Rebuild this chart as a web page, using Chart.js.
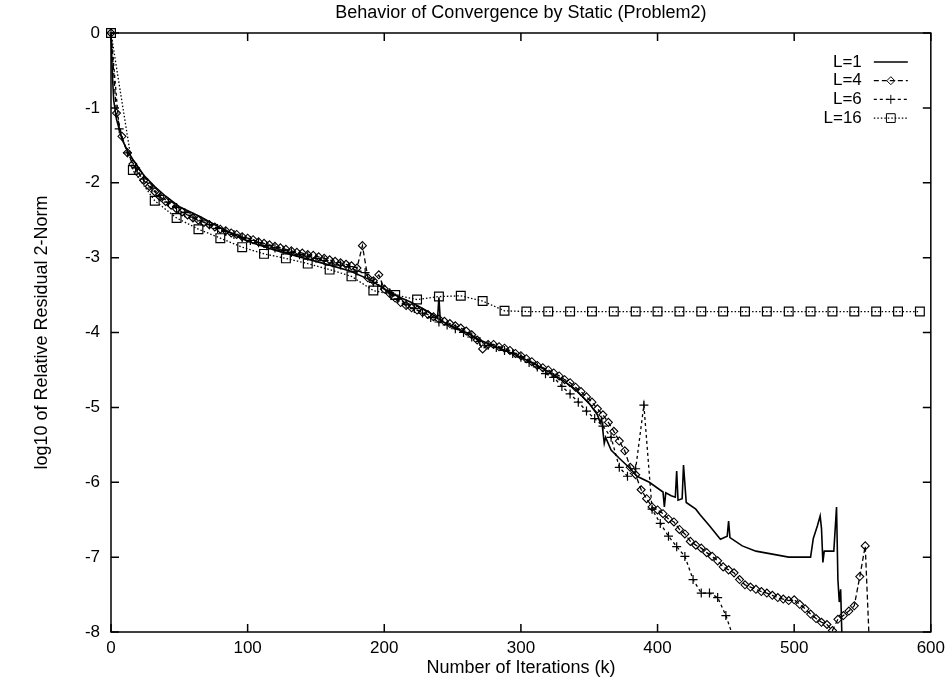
<!DOCTYPE html>
<html>
<head>
<meta charset="utf-8">
<script src="https://cdn.jsdelivr.net/npm/chart.js@4.4.1/dist/chart.umd.min.js"></script>
<style>
  html, body { margin: 0; padding: 0; background: #fff; }
  canvas { display: block; }
</style>
</head>
<body>
<canvas id="convChart" width="951" height="682"></canvas>
<script>
// axis ticks
const xTicks = [0, 100, 200, 300, 400, 500, 600];
const yTicks = [0, -1, -2, -3, -4, -5, -6, -7, -8];

// L=1 : every iteration (only the turning points are kept)
const l1Iter = [0, 1, 2, 4, 8, 12, 16, 24, 32, 40, 50, 65, 80, 100, 120, 140, 160, 175, 190, 200,
  210, 220, 230, 238, 239, 240, 241, 250, 260, 270, 280, 290, 300, 310, 320, 330, 340, 350, 356, 358,
  359, 361, 362, 366, 372, 379, 385, 394, 404, 405, 406, 410, 413, 414, 415, 418, 419, 421, 428, 431,
  438, 446, 451, 452, 453, 462, 472, 484, 496, 512, 514, 517, 519, 520, 521, 522, 529, 531, 532, 533,
  534, 535];
const l1Val = [0, -0.55, -0.9, -1.15, -1.42, -1.57, -1.69, -1.90, -2.05, -2.18, -2.32, -2.45, -2.60, -2.78, -2.90, -3.00, -3.10, -3.18, -3.30, -3.42,
  -3.52, -3.60, -3.70, -3.79, -3.81, -3.53, -3.84, -3.92, -4.00, -4.10, -4.18, -4.25, -4.33, -4.42, -4.52, -4.63, -4.76, -4.95, -5.10, -5.20,
  -5.15, -5.48, -5.40, -5.57, -5.68, -5.80, -5.92, -6.00, -6.13, -6.33, -6.14, -6.18, -6.20, -5.85, -6.24, -6.22, -5.77, -6.27, -6.36, -6.43,
  -6.58, -6.76, -6.72, -6.52, -6.74, -6.85, -6.92, -6.96, -7.00, -7.00, -6.75, -6.58, -6.45, -6.62, -7.07, -6.92, -6.92, -6.33, -7.30, -7.60,
  -7.43, -8.10];

// L=4 : one value every 4 iterations
const l4Step = 4;
const l4Val = [0, -1.07, -1.38, -1.60, -1.75, -1.87, -1.97, -2.05, -2.12, -2.19,
  -2.25, -2.30, -2.35, -2.39, -2.43, -2.47, -2.50, -2.53, -2.56, -2.59,
  -2.62, -2.64, -2.67, -2.69, -2.72, -2.74, -2.76, -2.79, -2.81, -2.83,
  -2.85, -2.87, -2.89, -2.91, -2.93, -2.94, -2.96, -2.97, -2.99, -3.01,
  -3.03, -3.05, -3.07, -3.09, -3.11, -3.14, -2.84, -3.27, -3.31, -3.23,
  -3.42, -3.48, -3.54, -3.60, -3.64, -3.67, -3.70, -3.73, -3.76, -3.79,
  -3.82, -3.85, -3.88, -3.91, -3.94, -3.98, -4.03, -4.10, -4.22, -4.16,
  -4.16, -4.19, -4.21, -4.24, -4.28, -4.31, -4.35, -4.39, -4.44, -4.47,
  -4.50, -4.54, -4.58, -4.63, -4.67, -4.73, -4.79, -4.86, -4.93, -5.02,
  -5.10, -5.20, -5.32, -5.45, -5.58, -5.80, -5.90, -6.10, -6.22, -6.33,
  -6.37, -6.42, -6.49, -6.53, -6.63, -6.69, -6.79, -6.84, -6.88, -6.94,
  -6.99, -7.05, -7.13, -7.17, -7.21, -7.30, -7.37, -7.40, -7.43, -7.46,
  -7.48, -7.51, -7.54, -7.56, -7.58, -7.57, -7.63, -7.69, -7.76, -7.82,
  -7.87, -7.90, -7.98, -7.83, -7.78, -7.72, -7.65, -7.26, -6.85, -8.60];

// L=6 : one value every 6 iterations
const l6Step = 6;
const l6Val = [0, -1.28, -1.60, -1.80, -1.95, -2.07, -2.17, -2.26, -2.33, -2.40,
  -2.46, -2.51, -2.56, -2.61, -2.65, -2.69, -2.73, -2.77, -2.80, -2.84,
  -2.87, -2.90, -2.93, -2.96, -2.98, -3.01, -3.04, -3.07, -3.10, -3.12,
  -3.18, -3.20, -3.33, -3.38, -3.47, -3.55, -3.62, -3.68, -3.74, -3.80,
  -3.86, -3.90, -3.95, -4.00, -4.06, -4.12, -4.17, -4.20, -4.24, -4.28,
  -4.33, -4.40, -4.46, -4.55, -4.60, -4.72, -4.82, -4.93, -5.05, -5.15,
  -5.25, -5.40, -5.80, -5.92, -5.82, -4.97, -6.36, -6.55, -6.72, -6.86,
  -6.99, -7.30, -7.48, -7.48, -7.54, -7.78, -8.10];

// L=16 : one value every 16 iterations
const l16Step = 16;
const l16Val = [0, -1.83, -2.24, -2.47, -2.62, -2.74, -2.86, -2.95, -3.01, -3.08,
  -3.16, -3.25, -3.44, -3.50, -3.56, -3.52, -3.51, -3.58, -3.71, -3.72,
  -3.72, -3.72, -3.72, -3.72, -3.72, -3.72, -3.72, -3.72, -3.72, -3.72,
  -3.72, -3.72, -3.72, -3.72, -3.72, -3.72, -3.72, -3.72];

const FONT = '"Liberation Sans", Arial, Helvetica, sans-serif';
Chart.defaults.font.family = FONT;
Chart.defaults.color = '#000';

function pairs(xs, ys) {
    return ys.map((v, i) => ({ x: xs[i], y: v }));
}
function stepped(step, ys) {
    return ys.map((v, i) => ({ x: i * step, y: v }));
}

const edgeClip = { left: 8, top: 8, right: 8, bottom: 0 };

// box round the plot with inward ticks on all four sides (gnuplot look)
const frame = {
    id: 'frame',
    afterDatasetsDraw(chart) {
        const { ctx, chartArea: a, scales } = chart;
        const len = 8;
        ctx.save();
        ctx.strokeStyle = '#000';
        ctx.lineWidth = 1.5;
        ctx.strokeRect(a.left, a.top, a.right - a.left, a.bottom - a.top);
        ctx.beginPath();
        scales.x.ticks.forEach(t => {
            const x = scales.x.getPixelForValue(t.value);
            ctx.moveTo(x, a.bottom); ctx.lineTo(x, a.bottom - len);
            ctx.moveTo(x, a.top); ctx.lineTo(x, a.top + len);
        });
        scales.y.ticks.forEach(t => {
            const y = scales.y.getPixelForValue(t.value);
            ctx.moveTo(a.left, y); ctx.lineTo(a.left + len, y);
            ctx.moveTo(a.right, y); ctx.lineTo(a.right - len, y);
        });
        ctx.stroke();
        ctx.restore();
    }
};

// key in the top right corner: label, then line sample with its marker
const keyBox = {
    id: 'keyBox',
    afterDraw(chart) {
        const { ctx, chartArea: a } = chart;
        ctx.save();
        ctx.font = '17px ' + FONT;
        ctx.textAlign = 'right';
        ctx.textBaseline = 'middle';
        chart.data.datasets.forEach((ds, i) => {
            const y = a.top + 29 + i * 18.7;
            const xt = a.right - 69;
            ctx.fillStyle = '#000';
            ctx.fillText(ds.label, xt, y);
            ctx.strokeStyle = '#000';
            ctx.lineWidth = ds.borderWidth;
            ctx.setLineDash(ds.borderDash || []);
            ctx.beginPath();
            ctx.moveTo(xt + 12, y);
            ctx.lineTo(xt + 46, y);
            ctx.stroke();
            ctx.setLineDash([]);
            if (ds.pointRadius > 0) {
                ctx.fillStyle = 'rgba(0,0,0,0)';
                ctx.lineWidth = 1;
                Chart.helpers.drawPoint(ctx, {
                    pointStyle: ds.pointStyle, radius: ds.pointRadius, rotation: 0, borderWidth: 1
                }, xt + 29, y);
            }
        });
        ctx.restore();
    }
};

const data = {
    datasets: [{
        label: 'L=1',
        data: pairs(l1Iter, l1Val),
        borderColor: '#000',
        borderWidth: 1.6,
        pointRadius: 0,
        clip: edgeClip
    },
    {
        label: 'L=4',
        data: stepped(l4Step, l4Val),
        borderColor: '#000',
        borderWidth: 1.3,
        borderDash: [5, 3],
        pointStyle: 'rectRot',
        pointRadius: 4,
        pointBorderWidth: 1.1,
        pointBackgroundColor: 'rgba(0,0,0,0)',
        pointBorderColor: '#000',
        clip: edgeClip
    },
    {
        label: 'L=6',
        data: stepped(l6Step, l6Val),
        borderColor: '#000',
        borderWidth: 1.3,
        borderDash: [3, 3],
        pointStyle: 'cross',
        pointRadius: 4.5,
        pointBorderWidth: 1.2,
        pointBorderColor: '#000',
        clip: edgeClip
    },
    {
        label: 'L=16',
        data: stepped(l16Step, l16Val),
        borderColor: '#000',
        borderWidth: 1.3,
        borderDash: [1.5, 2],
        pointStyle: 'rect',
        pointRadius: 6.2,
        pointBorderWidth: 1.2,
        pointBackgroundColor: 'rgba(0,0,0,0)',
        pointBorderColor: '#000',
        clip: edgeClip
    }]
};

const options = {
    responsive: false,
    animation: false,
    showLine: true,
    layout: {
        padding: { left: 0, right: 15, top: 0, bottom: 0 }
    },
    elements: {
        line: { tension: 0 }
    },
    scales: {
        x: {
            type: 'linear',
            min: 0,
            max: 600,
            afterBuildTicks: s => { s.ticks = xTicks.map(v => ({ value: v })); },
            afterFit: s => { s.height = 50; },
            grid: { display: false, drawTicks: false },
            border: { display: false },
            ticks: { font: { size: 17 }, padding: 6, maxRotation: 0 },
            title: {
                display: true,
                text: 'Number of Iterations (k)',
                font: { size: 18 },
                padding: { top: 0, bottom: 3 }
            }
        },
        y: {
            type: 'linear',
            min: -8,
            max: 0,
            afterBuildTicks: s => { s.ticks = yTicks.map(v => ({ value: v })); },
            afterFit: s => { s.width = 111; },
            grid: { display: false, drawTicks: false },
            border: { display: false },
            ticks: { font: { size: 17 }, padding: 11 },
            title: {
                display: true,
                text: 'log10 of Relative Residual 2-Norm',
                font: { size: 18 },
                padding: { top: 31, bottom: 0 }
            }
        }
    },
    plugins: {
        legend: { display: false },
        tooltip: { enabled: false },
        title: {
            display: true,
            fullSize: false,
            text: 'Behavior of Convergence by Static (Problem2)',
            font: { size: 18, weight: 'normal' },
            color: '#000',
            padding: { top: 2, bottom: 9.4 }
        }
    }
};

new Chart(document.getElementById('convChart'), {
    type: 'scatter',
    data: data,
    options: options,
    plugins: [frame, keyBox]
});
</script>
</body>
</html>
